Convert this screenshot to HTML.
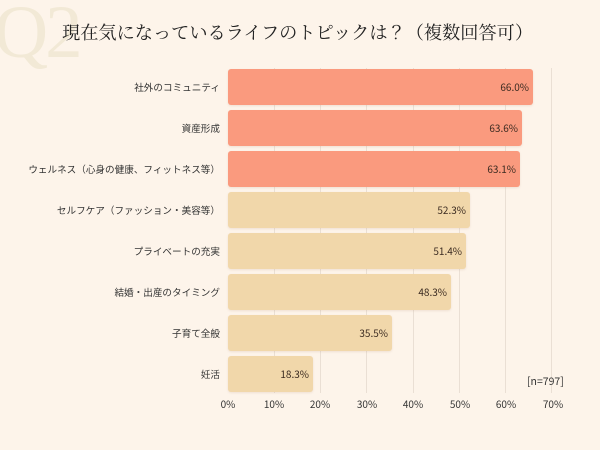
<!DOCTYPE html>
<html><head><meta charset="utf-8">
<style>
html,body{margin:0;padding:0;}
body{width:600px;height:450px;background:#fdf4ea;position:relative;overflow:hidden;font-family:"Noto Sans CJK JP","Liberation Sans",sans-serif;color:#333;}
.q2{position:absolute;left:-6px;top:-5px;font-family:"Liberation Serif",serif;font-size:75px;color:#f2e9d6;letter-spacing:-3px;line-height:1;}
.title{position:absolute;left:62px;top:19px;font-family:"Noto Serif CJK JP","Noto Serif CJK SC",serif;font-size:18.2px;color:#222;white-space:nowrap;line-height:26px;}
.grid{position:absolute;top:68px;height:325px;width:1px;background:#eadfd4;}
.bar{position:absolute;left:228px;height:36px;border-radius:3px;box-shadow:0 1px 2px rgba(180,140,110,0.18);}
.o{background:#fa9a7e;}
.b{background:#f1d7aa;}
.val{position:absolute;right:4px;top:0;line-height:36px;font-size:10px;color:#3a2a20;}
.lab{position:absolute;right:380px;height:36px;line-height:36px;font-size:9.6px;color:#333;white-space:nowrap;text-align:right;}
.tick{position:absolute;top:397px;width:40px;margin-left:-20px;text-align:center;font-size:10px;color:#333;line-height:14px;}
.n{position:absolute;left:527px;top:375px;font-size:10.5px;color:#333;line-height:14px;}
</style></head><body>
<div class="q2">Q2</div>
<div class="title">現在気になっているライフのトピックは？（複数回答可）</div>

<div class="grid" style="left:274px"></div>
<div class="grid" style="left:320px"></div>
<div class="grid" style="left:366px"></div>
<div class="grid" style="left:413px"></div>
<div class="grid" style="left:459px"></div>
<div class="grid" style="left:505px"></div>
<div class="grid" style="left:551px"></div>

<div class="bar o" style="top:69px;width:305px"><span class="val">66.0%</span></div>
<div class="bar o" style="top:110px;width:294px"><span class="val">63.6%</span></div>
<div class="bar o" style="top:151px;width:292px"><span class="val">63.1%</span></div>
<div class="bar b" style="top:192px;width:242px"><span class="val">52.3%</span></div>
<div class="bar b" style="top:233px;width:238px"><span class="val">51.4%</span></div>
<div class="bar b" style="top:274px;width:223px"><span class="val">48.3%</span></div>
<div class="bar b" style="top:315px;width:164px"><span class="val">35.5%</span></div>
<div class="bar b" style="top:356px;width:85px"><span class="val">18.3%</span></div>

<div class="lab" style="top:69px">社外のコミュニティ</div>
<div class="lab" style="top:110px">資産形成</div>
<div class="lab" style="top:151px">ウェルネス（心身の健康、フィットネス等）</div>
<div class="lab" style="top:192px">セルフケア（ファッション・美容等）</div>
<div class="lab" style="top:233px">プライベートの充実</div>
<div class="lab" style="top:274px">結婚・出産のタイミング</div>
<div class="lab" style="top:315px">子育て全般</div>
<div class="lab" style="top:356px">妊活</div>

<div class="tick" style="left:228px">0%</div>
<div class="tick" style="left:274px">10%</div>
<div class="tick" style="left:320px">20%</div>
<div class="tick" style="left:367px">30%</div>
<div class="tick" style="left:413px">40%</div>
<div class="tick" style="left:460px">50%</div>
<div class="tick" style="left:506px">60%</div>
<div class="tick" style="left:553px">70%</div>

<div class="n">[n=797]</div>
</body></html>
